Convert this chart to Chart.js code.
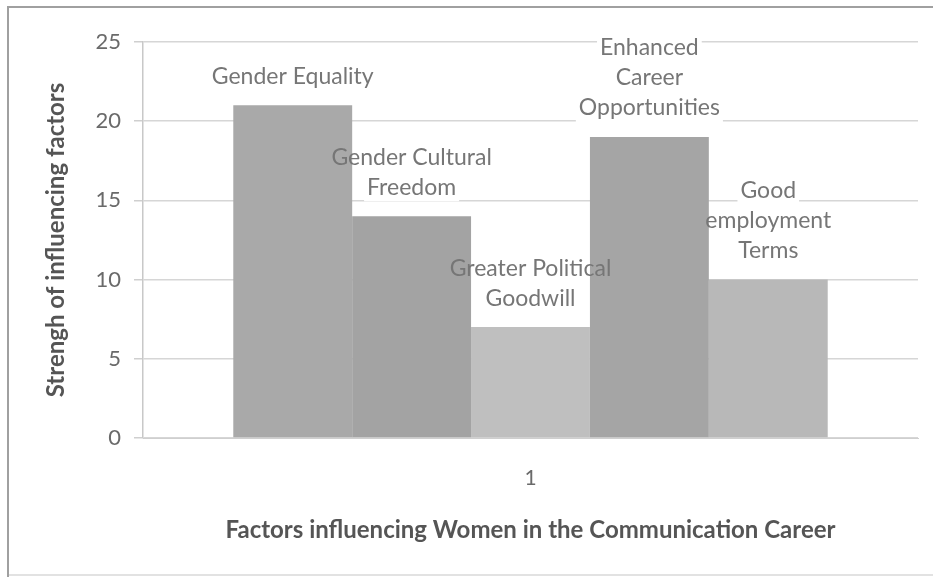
<!DOCTYPE html>
<html><head><meta charset="utf-8">
<script src="https://cdn.jsdelivr.net/npm/chart.js@4"></script>
<style>html,body{margin:0;padding:0;background:#fff}#wrap{width:933px;height:577px;position:relative}</style>
</head><body><div id="wrap"><canvas id="c" width="933" height="577"></canvas></div>
<script>
const categories = ['1'];
const seriesNames = ['Gender Equality', 'Gender Cultural Freedom', 'Greater Political Goodwill', 'Enhanced Career Opportunities', 'Good employment Terms'];
const seriesLabelLines = [['Gender Equality'], ['Gender Cultural', 'Freedom'], ['Greater Political', 'Goodwill'], ['Enhanced', 'Career', 'Opportunities'], ['Good', 'employment', 'Terms']];
const genderEquality = [21];
const genderCulturalFreedom = [14];
const greaterPoliticalGoodwill = [7];
const enhancedCareerOpportunities = [19];
const goodEmploymentTerms = [10];
const seriesValues = [genderEquality, genderCulturalFreedom, greaterPoliticalGoodwill, enhancedCareerOpportunities, goodEmploymentTerms];
const yTickValues = [0, 5, 10, 15, 20, 25];
const barColors = ['#a9a9a9', '#a3a3a3', '#bfbfbf', '#a5a5a5', '#b8b8b8'];
const xAxisTitle = 'Factors influencing Women in the Communication Career';
const yAxisTitle = 'Strengh of influencing factors';

const FONT = 'Lato, "Open Sans", sans-serif';

const frame = {
  id: 'frame',
  beforeDraw(chart) {
    const ctx = chart.ctx;
    ctx.save();
    ctx.fillStyle = '#fff';
    ctx.fillRect(0, 0, chart.width, chart.height);
    ctx.lineWidth = 2;
    ctx.strokeStyle = '#e2e2e2';
    ctx.beginPath(); ctx.moveTo(8, 575); ctx.lineTo(chart.width, 575); ctx.stroke();
    ctx.strokeStyle = '#a0a0a0';
    ctx.beginPath(); ctx.moveTo(8, chart.height); ctx.lineTo(8, 7); ctx.lineTo(chart.width, 7); ctx.stroke();
    ctx.restore();
  }
};

const barLabels = {
  id: 'barLabels',
  lines(chart, cb) {
    const ctx = chart.ctx;
    chart.data.datasets.forEach((ds, i) => {
      const el = chart.getDatasetMeta(i).data[0];
      if (!el) return;
      const lines = seriesLabelLines[i];
      const n = lines.length;
      lines.forEach((t, j) => {
        const y = el.y - 29 - (n - 1 - j) * 30;
        cb(ctx, t, el.x, y);
      });
    });
  },
  beforeDatasetsDraw(chart) {
    const ctx = chart.ctx;
    ctx.save();
    ctx.font = '23px ' + FONT;
    ctx.fillStyle = '#ffffff';
    this.lines(chart, (c, t, x, y) => {
      const w = c.measureText(t).width;
      c.fillRect(x - w / 2 - 3, y - 14, w + 6, 28);
    });
    ctx.restore();
  },
  afterDatasetsDraw(chart) {
    const ctx = chart.ctx;
    ctx.save();
    ctx.font = '23px ' + FONT;
    ctx.fillStyle = '#767676';
    ctx.textAlign = 'center';
    ctx.textBaseline = 'middle';
    this.lines(chart, (c, t, x, y) => c.fillText(t, x, y));
    ctx.restore();
  }
};

new Chart(document.getElementById('c'), {
  type: 'bar',
  data: {
    labels: categories,
    datasets: seriesNames.map((name, i) => ({
      label: name,
      data: seriesValues[i],
      backgroundColor: barColors[i],
      borderWidth: 0,
      categoryPercentage: 0.767,
      barPercentage: 1
    }))
  },
  options: {
    responsive: false,
    animation: false,
    devicePixelRatio: 1,
    layout: { padding: { top: 42, right: 15, bottom: 0, left: 0 } },
    plugins: { legend: { display: false }, tooltip: { enabled: false }, title: { display: false } },
    scales: {
      x: {
        grid: { display: false, drawTicks: false },
        border: { display: true, color: '#cfcfcf', width: 1 },
        ticks: { color: '#6a6a6a', font: { family: FONT, size: 21 }, padding: 28 },
        title: { display: true, text: xAxisTitle, color: '#555555', font: { family: FONT, size: 24, weight: 'bold' }, padding: { top: 0, bottom: 32 } },
        afterFit(s) { s.height = 139; }
      },
      y: {
        min: 0, max: 25,
        afterBuildTicks(s) { s.ticks = yTickValues.map(v => ({ value: v })); },
        grid: { color: '#d6d6d6', lineWidth: 1.5, tickLength: 9, drawTicks: true, tickColor: '#cfcfcf' },
        border: { display: true, color: '#c8c8c8', width: 1.5 },
        ticks: { color: '#6a6a6a', font: { family: FONT, size: 22 }, padding: 13 },
        title: { display: true, text: yAxisTitle, color: '#555555', font: { family: FONT, size: 24, weight: 'bold' }, padding: { top: 42, bottom: 0 } },
        afterFit(s) { s.width = 143; }
      }
    }
  },
  plugins: [frame, barLabels]
});
</script>
</body></html>
